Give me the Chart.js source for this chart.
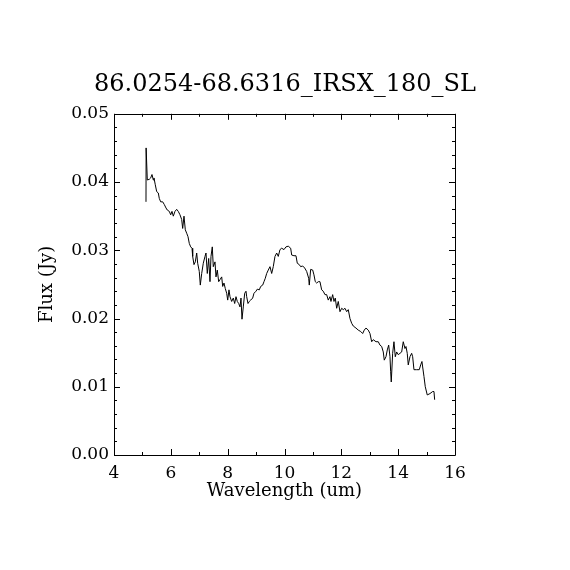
<!DOCTYPE html>
<html>
<head>
<meta charset="utf-8">
<title>86.0254-68.6316_IRSX_180_SL</title>
<script src="https://cdn.jsdelivr.net/npm/chart.js@4.4.1/dist/chart.umd.min.js"></script>
<style>
  html, body { margin: 0; padding: 0; background: #fff; }
  #wrap { width: 570px; height: 570px; }
</style>
</head>
<body>
<div id="wrap"><canvas id="spectrum" width="570" height="570"></canvas></div>
<script>
// Spectrum: wavelength (um) and flux (Jy)
const wavelength = [
    5.126, 5.13, 5.172, 5.242, 5.291, 5.337, 5.383, 5.407, 5.453, 5.502,
    5.559, 5.594, 5.643, 5.714, 5.770, 5.830, 5.875, 5.946, 5.995, 6.041,
    6.087, 6.146, 6.206, 6.262, 6.322, 6.382, 6.417, 6.463, 6.509, 6.558,
    6.604, 6.650, 6.699, 6.745, 6.769, 6.815, 6.861, 6.910, 6.945, 7.001,
    7.037, 7.086, 7.142, 7.202, 7.237, 7.283, 7.332, 7.378, 7.413, 7.459,
    7.494, 7.554, 7.589, 7.635, 7.684, 7.730, 7.790, 7.825, 7.870, 7.916,
    7.966, 8.001, 8.046, 8.082, 8.141, 8.198, 8.247, 8.293, 8.339, 8.388,
    8.434, 8.469, 8.504, 8.550, 8.599, 8.645, 8.669, 8.715, 8.761, 8.810,
    8.880, 8.926, 8.996, 9.042, 9.113, 9.162, 9.232, 9.278, 9.324, 9.373,
    9.429, 9.489, 9.549, 9.605, 9.665, 9.725, 9.781, 9.841, 9.901, 9.982,
    10.052, 10.133, 10.217, 10.253, 10.333, 10.404, 10.450, 10.520, 10.569, 10.640,
    10.710, 10.780, 10.851, 10.872, 10.921, 10.992, 11.037, 11.083, 11.132, 11.189,
    11.248, 11.308, 11.364, 11.424, 11.484, 11.540, 11.600, 11.635, 11.695, 11.741,
    11.787, 11.836, 11.892, 11.952, 12.012, 12.068, 12.128, 12.188, 12.244, 12.304,
    12.364, 12.420, 12.515, 12.596, 12.681, 12.751, 12.807, 12.867, 12.948, 13.008,
    13.068, 13.124, 13.219, 13.300, 13.360, 13.420, 13.476, 13.511, 13.571, 13.617,
    13.666, 13.712, 13.736, 13.757, 13.806, 13.852, 13.898, 13.947, 14.003, 14.063,
    14.123, 14.179, 14.239, 14.275, 14.320, 14.355, 14.415, 14.475, 14.510, 14.556,
    14.651, 14.742, 14.792, 14.837, 14.862, 14.908, 14.954, 15.024, 15.119, 15.214,
    15.260, 15.284
];
const flux = [
    0.0371, 0.0450, 0.0403, 0.0404, 0.0406, 0.0411, 0.0403, 0.0406, 0.0396, 0.0386,
    0.0384, 0.0376, 0.0371, 0.0371, 0.0367, 0.0362, 0.0359, 0.0357, 0.0352, 0.0357,
    0.0350, 0.0357, 0.0360, 0.0357, 0.0352, 0.0345, 0.0332, 0.0350, 0.0330, 0.0325,
    0.0320, 0.0310, 0.0305, 0.0303, 0.0291, 0.0279, 0.0283, 0.0296, 0.0281, 0.0269,
    0.0249, 0.0266, 0.0281, 0.0291, 0.0296, 0.0266, 0.0288, 0.0254, 0.0291, 0.0305,
    0.0276, 0.0283, 0.0261, 0.0271, 0.0254, 0.0257, 0.0261, 0.0247, 0.0252, 0.0244,
    0.0237, 0.0227, 0.0242, 0.0232, 0.0225, 0.0230, 0.0222, 0.0232, 0.0225, 0.0222,
    0.0217, 0.0230, 0.0199, 0.0217, 0.0237, 0.0240, 0.0232, 0.0222, 0.0225, 0.0227,
    0.0230, 0.0237, 0.0240, 0.0243, 0.0242, 0.0247, 0.0249, 0.0254, 0.0259, 0.0266,
    0.0271, 0.0276, 0.0266, 0.0276, 0.0291, 0.0296, 0.0291, 0.0301, 0.0303, 0.0301,
    0.0305, 0.0306, 0.0303, 0.0293, 0.0292, 0.0292, 0.0281, 0.0279, 0.0276, 0.0277,
    0.0274, 0.0269, 0.0259, 0.0249, 0.0272, 0.0271, 0.0264, 0.0254, 0.0252, 0.0254,
    0.0254, 0.0242, 0.0240, 0.0235, 0.0235, 0.0227, 0.0232, 0.0225, 0.0235, 0.0225,
    0.0230, 0.0215, 0.0225, 0.0210, 0.0215, 0.0213, 0.0215, 0.0210, 0.0213, 0.0200,
    0.0193, 0.0189, 0.0186, 0.0183, 0.0181, 0.0178, 0.0183, 0.0186, 0.0183, 0.0178,
    0.0166, 0.0169, 0.0166, 0.0166, 0.0161, 0.0159, 0.0151, 0.0139, 0.0144, 0.0154,
    0.0161, 0.0144, 0.0122, 0.0107, 0.0149, 0.0166, 0.0144, 0.0151, 0.0147, 0.0149,
    0.0151, 0.0166, 0.0156, 0.0159, 0.0149, 0.0132, 0.0144, 0.0149, 0.0144, 0.0125,
    0.0125, 0.0125, 0.0132, 0.0137, 0.0129, 0.0115, 0.0100, 0.0088, 0.0090, 0.0093,
    0.0093, 0.0081
];

// Axis ticks
const xTicks = [4, 6, 8, 10, 12, 14, 16];
const xMinorTicks = [5, 7, 9, 11, 13, 15];
const yTicks = [0, 0.01, 0.02, 0.03, 0.04, 0.05];
const yMinorStep = 0.002;

const serif = '"DejaVu Serif", "Liberation Serif", serif';

// Draws the frame and the inward tick marks on all four sides, like the IDL plot
const frameTicks = {
    id: 'frameTicks',
    afterDraw(chart) {
        const { ctx, chartArea: a, scales: { x, y } } = chart;
        ctx.save();
        ctx.strokeStyle = '#000';
        ctx.lineWidth = 1;
        ctx.beginPath();
        ctx.rect(Math.round(a.left) + 0.5, Math.round(a.top) + 0.5,
                 Math.round(a.right - a.left), Math.round(a.bottom - a.top));

        const xMark = (v, len) => {
            const px = Math.round(x.getPixelForValue(v)) + 0.5;
            ctx.moveTo(px, a.bottom); ctx.lineTo(px, a.bottom - len);
            ctx.moveTo(px, a.top); ctx.lineTo(px, a.top + len);
        };
        const yMark = (v, len) => {
            const py = Math.round(y.getPixelForValue(v)) + 0.5;
            ctx.moveTo(a.left, py); ctx.lineTo(a.left + len, py);
            ctx.moveTo(a.right, py); ctx.lineTo(a.right - len, py);
        };

        xTicks.forEach(v => xMark(v, 6));
        xMinorTicks.forEach(v => xMark(v, 3));
        yTicks.forEach(v => yMark(v, 6));
        for (let i = 1; i < 25; i++) {
            if (i % 5 !== 0) yMark(i * yMinorStep, 3);
        }
        ctx.stroke();
        ctx.restore();
    }
};

const ctx = document.getElementById('spectrum').getContext('2d');
new Chart(ctx, {
    type: 'line',
    data: {
        datasets: [{
            data: wavelength.map((w, i) => ({ x: w, y: flux[i] })),
            borderColor: '#000',
            borderWidth: 1,
            pointRadius: 0,
            fill: false,
            tension: 0
        }]
    },
    plugins: [frameTicks],
    options: {
        responsive: false,
        animation: false,
        layout: { padding: 0 },
        plugins: {
            legend: { display: false },
            tooltip: { enabled: false },
            title: {
                display: true,
                text: '86.0254-68.6316_IRSX_180_SL',
                color: '#000',
                font: { family: serif, size: 24, weight: 'normal', lineHeight: 1.2 },
                padding: { top: 70, bottom: 15 }
            }
        },
        scales: {
            x: {
                type: 'linear',
                min: 4,
                max: 16,
                afterBuildTicks: s => { s.ticks = xTicks.map(v => ({ value: v })); },
                afterFit: s => { s.height = 115; },
                grid: { display: false, drawTicks: false },
                border: { display: false },
                ticks: {
                    color: '#000',
                    padding: 8,
                    maxRotation: 0,
                    font: { family: serif, size: 17 },
                    callback: v => String(v)
                },
                title: {
                    display: true,
                    text: 'Wavelength (um)',
                    color: '#000',
                    font: { family: serif, size: 18, lineHeight: 1.2 },
                    padding: { top: 0, bottom: 68 }
                }
            },
            y: {
                type: 'linear',
                min: 0,
                max: 0.05,
                afterBuildTicks: s => { s.ticks = yTicks.map(v => ({ value: v })); },
                afterFit: s => { s.width = 114; },
                grid: { display: false, drawTicks: false },
                border: { display: false },
                ticks: {
                    color: '#000',
                    padding: 5,
                    font: { family: serif, size: 17 },
                    callback: v => v.toFixed(2)
                },
                title: {
                    display: true,
                    text: 'Flux (Jy)',
                    color: '#000',
                    font: { family: serif, size: 18, lineHeight: 1.2 },
                    padding: { top: 37, bottom: 0 }
                }
            },
            // empty right-hand axis that only reserves the margin, so the title centres over the plot
            yRight: {
                type: 'linear',
                position: 'right',
                display: true,
                min: 0,
                max: 0.05,
                afterFit: s => { s.width = 115; },
                grid: { display: false, drawTicks: false },
                border: { display: false },
                ticks: { display: false }
            }
        }
    }
});
</script>
</body>
</html>
